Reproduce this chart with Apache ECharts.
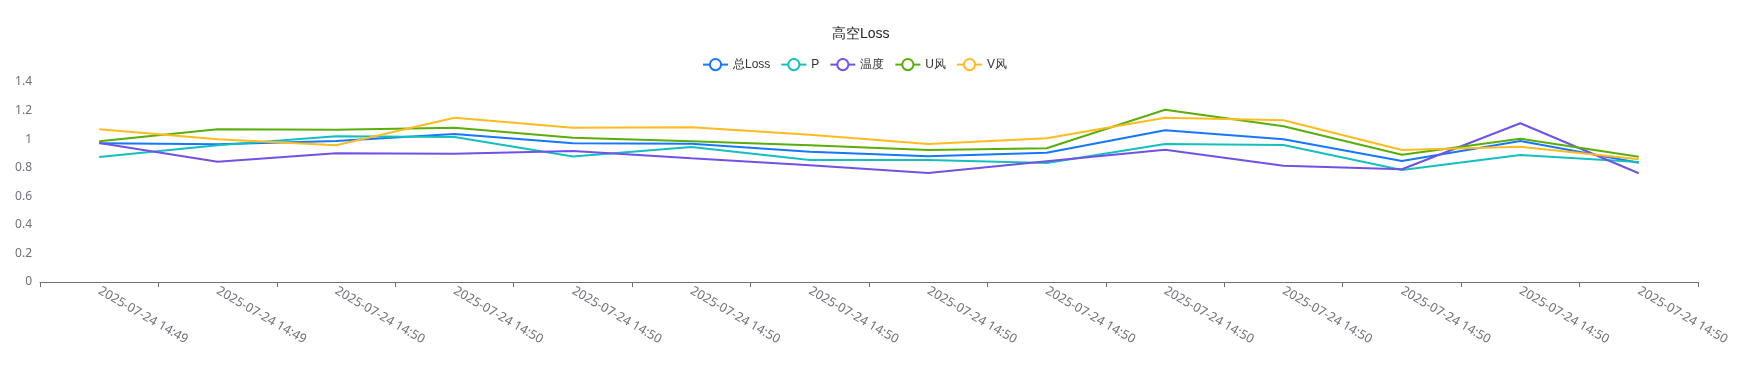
<!DOCTYPE html>
<html>
<head>
<meta charset="utf-8">
<script src="https://cdn.jsdelivr.net/npm/echarts@6/dist/echarts.min.js"></script>
<style>html,body{margin:0;padding:0;background:#fff;}#c{width:1758px;height:390px;}</style>
</head>
<body>
<div id="c"></div>
<script>
const categories = [
  '2025-07-24 14:49','2025-07-24 14:49','2025-07-24 14:50','2025-07-24 14:50',
  '2025-07-24 14:50','2025-07-24 14:50','2025-07-24 14:50','2025-07-24 14:50',
  '2025-07-24 14:50','2025-07-24 14:50','2025-07-24 14:50','2025-07-24 14:50',
  '2025-07-24 14:50','2025-07-24 14:50'
];
const totalLoss = [0.971, 0.964, 0.987, 1.036, 0.971, 0.968, 0.912, 0.880, 0.905, 1.062, 0.999, 0.847, 0.987, 0.835];
const pLoss     = [0.875, 0.957, 1.020, 1.015, 0.878, 0.945, 0.854, 0.854, 0.833, 0.966, 0.959, 0.784, 0.889, 0.840];
const tempLoss  = [0.973, 0.842, 0.901, 0.898, 0.917, 0.866, 0.817, 0.763, 0.845, 0.926, 0.814, 0.789, 1.111, 0.761];
const uLoss     = [0.985, 1.069, 1.066, 1.080, 1.009, 0.985, 0.957, 0.924, 0.936, 1.206, 1.090, 0.891, 1.003, 0.877];
const vLoss     = [1.069, 0.999, 0.957, 1.150, 1.079, 1.083, 1.031, 0.966, 1.006, 1.150, 1.132, 0.924, 0.947, 0.859];
const seriesNames = ['总Loss', 'P', '温度', 'U风', 'V风'];
const colors = ['#1677ff', '#15bfbf', '#7152e6', '#5aae0c', '#ffbb1f'];
const yTicks = { min: 0, max: 1.4, interval: 0.2 };

const chart = echarts.init(document.getElementById('c'));
const dataList = [totalLoss, pLoss, tempLoss, uLoss, vLoss];
chart.setOption({
  animation: false,
  color: colors,
  title: {
    text: '高空Loss',
    left: 827,
    top: 22,
    textStyle: { fontSize: 14, fontWeight: 'normal', color: '#222' }
  },
  legend: {
    data: seriesNames,
    left: 697,
    top: 53,
    itemWidth: 25,
    itemHeight: 14,
    itemGap: 10,
    textStyle: { fontSize: 12, color: '#333' }
  },
  grid: { left: 40, right: 60, top: 82, bottom: 108, containLabel: false },
  xAxis: {
    type: 'category',
    data: categories,
    boundaryGap: true,
    axisLabel: { rotate: -30, fontSize: 12.6, color: '#6e7079', interval: 0, fontFamily: 'Noto Sans' },
    axisTick: { show: true },
    axisLine: { lineStyle: { color: '#6e7079' } }
  },
  yAxis: {
    type: 'value',
    min: yTicks.min,
    max: yTicks.max,
    interval: yTicks.interval,
    splitLine: { show: false },
    axisLabel: { fontSize: 12, color: '#6e7079', fontFamily: 'Noto Sans' }
  },
  series: seriesNames.map((n, i) => ({
    name: n,
    type: 'line',
    data: dataList[i],
    symbol: 'emptyCircle',
    showSymbol: false,
    lineStyle: { width: 2 }
  }))
});
</script>
</body>
</html>
